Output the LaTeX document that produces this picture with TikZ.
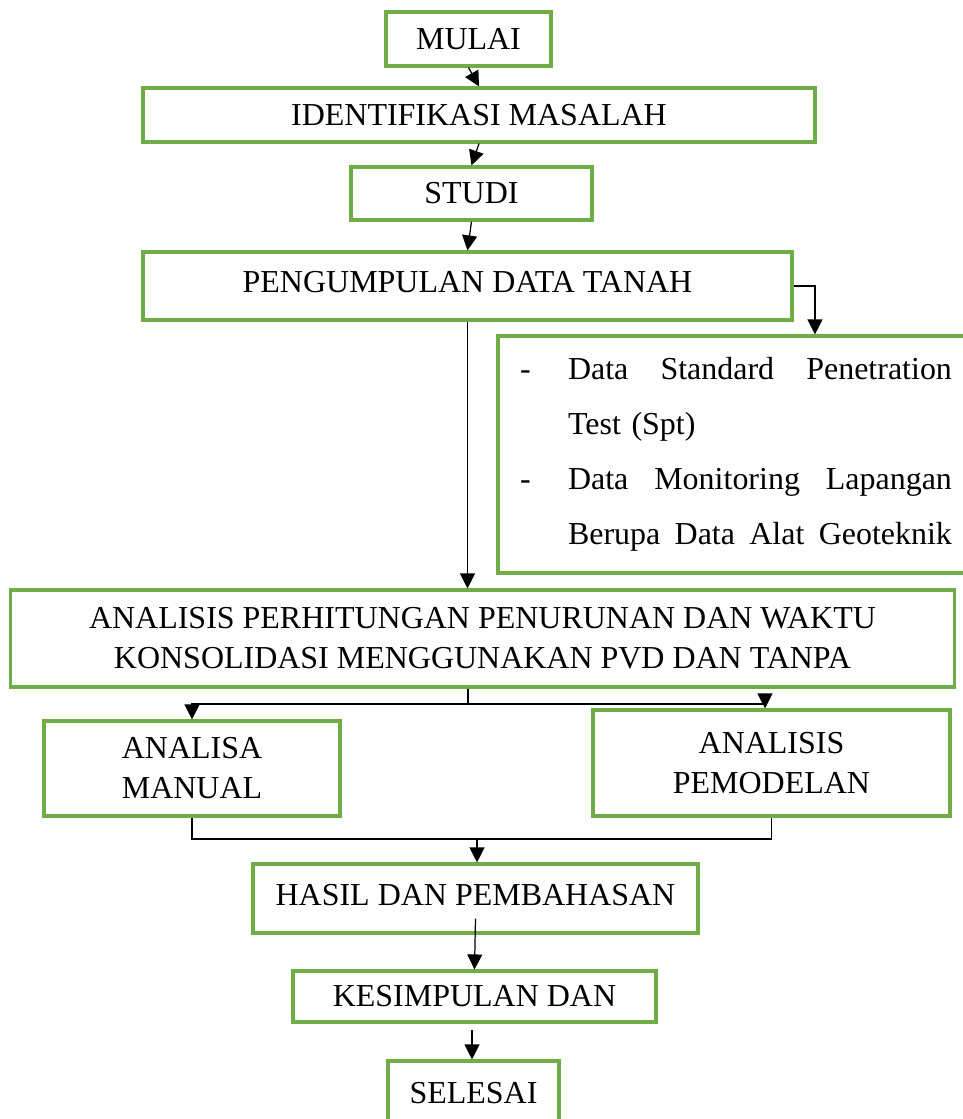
\documentclass[tikz,border=0pt]{standalone}
\usepackage{fontspec}
\setmainfont{Liberation Serif}
\usetikzlibrary{arrows.meta}
\definecolor{boxgreen}{HTML}{70AD47}
\begin{document}
\begin{tikzpicture}[x=0.02cm, y=-0.02cm, >={Triangle[length=0.3cm,width=0.3cm]}, font=\fontsize{18.2}{22.8}\selectfont]
  % Define styles
  \tikzstyle{box}=[draw=boxgreen, line width=1.8pt, align=center, inner sep=0pt]
  \tikzstyle{arrow}=[->, line width=0.7pt]
  \tikzstyle{link}=[line width=0.7pt]

  \useasboundingbox (0,0) rectangle (963,1119);

  % Boxes
  \node[box, minimum width=3.3cm, minimum height=1.08cm] (mulai) at (468.5,39) {MULAI};
  \node[box, minimum width=13.44cm, minimum height=1.08cm] (ident) at (479,115) {IDENTIFIKASI MASALAH};
  \node[box, minimum width=4.82cm, minimum height=1.06cm] (studi) at (471.5,193.5) {STUDI};
  \node[box, minimum width=12.98cm, minimum height=1.36cm, text depth=0.15cm] (peng) at (467.5,286) {PENGUMPULAN DATA TANAH};
  \node[box, minimum height=4.74cm, text width=8.66cm, inner xsep=0.44cm, align=left,
        font=\fontsize{18.2}{31.3}\selectfont] (data) at (736.5,454.5)
    {\makebox[0.96cm][l]{-}\hbox to 7.68cm{Data\hfill Standard\hfill Penetration}\\
     \makebox[0.96cm][l]{}Test (Spt)\\
     \makebox[0.96cm][l]{-}\hbox to 7.68cm{Data\hfill Monitoring\hfill Lapangan}\\
     \makebox[0.96cm][l]{}\hbox to 7.68cm{Berupa\hfill Data\hfill Alat\hfill Geoteknik}\\[0.2cm]};
  \node[box, minimum width=18.9cm, minimum height=1.94cm] (analisis) at (482.5,638.5)
    {ANALISIS PERHITUNGAN PENURUNAN DAN WAKTU\\KONSOLIDASI MENGGUNAKAN PVD DAN TANPA};
  \node[box, minimum width=5.92cm, minimum height=1.9cm] (manual) at (192,768.5) {ANALISA\\MANUAL};
  \node[box, minimum width=7.14cm, minimum height=2.12cm] (pemod) at (771.5,763) {ANALISIS\\PEMODELAN};
  \node[box, minimum width=8.9cm, minimum height=1.38cm, text depth=0.15cm] (hasil) at (475.5,898.5) {HASIL DAN PEMBAHASAN};
  \node[box, minimum width=7.26cm, minimum height=1.02cm] (kesim) at (474.5,996.5) {KESIMPULAN DAN};
  \node[box, minimum width=3.42cm, minimum height=1.28cm] (selesai) at (473.5,1093) {SELESAI};

  % Split and merge points
  \coordinate (split) at (468,704);
  \coordinate (merge) at (477,839);
  \coordinate (drop) at (472,1030);

  % Arrows
  \draw[arrow] (mulai.south) -- (ident.north);
  \draw[arrow] (ident.south) -- (studi.north);
  \draw[arrow] (studi.south) -- (peng.north);
  \draw[arrow] (peng.east) -| ([xshift=1.57cm]data.north);
  \draw[arrow] (peng.south) -- (peng.south |- analisis.north);
  \draw[arrow] (split |- analisis.south) -- (split) -| (manual.north);
  \draw[arrow] (split) -| ([xshift=-0.13cm]pemod.north);
  \draw[link] (manual.south) |- (pemod.south |- merge) -- (pemod.south);
  \draw[arrow] (merge) -- (merge |- hasil.north);
  \draw[arrow] ([yshift=0.32cm]hasil.south) -- (kesim.north);
  \draw[arrow] (drop) -- (drop |- selesai.north);
\end{tikzpicture}
\end{document}
